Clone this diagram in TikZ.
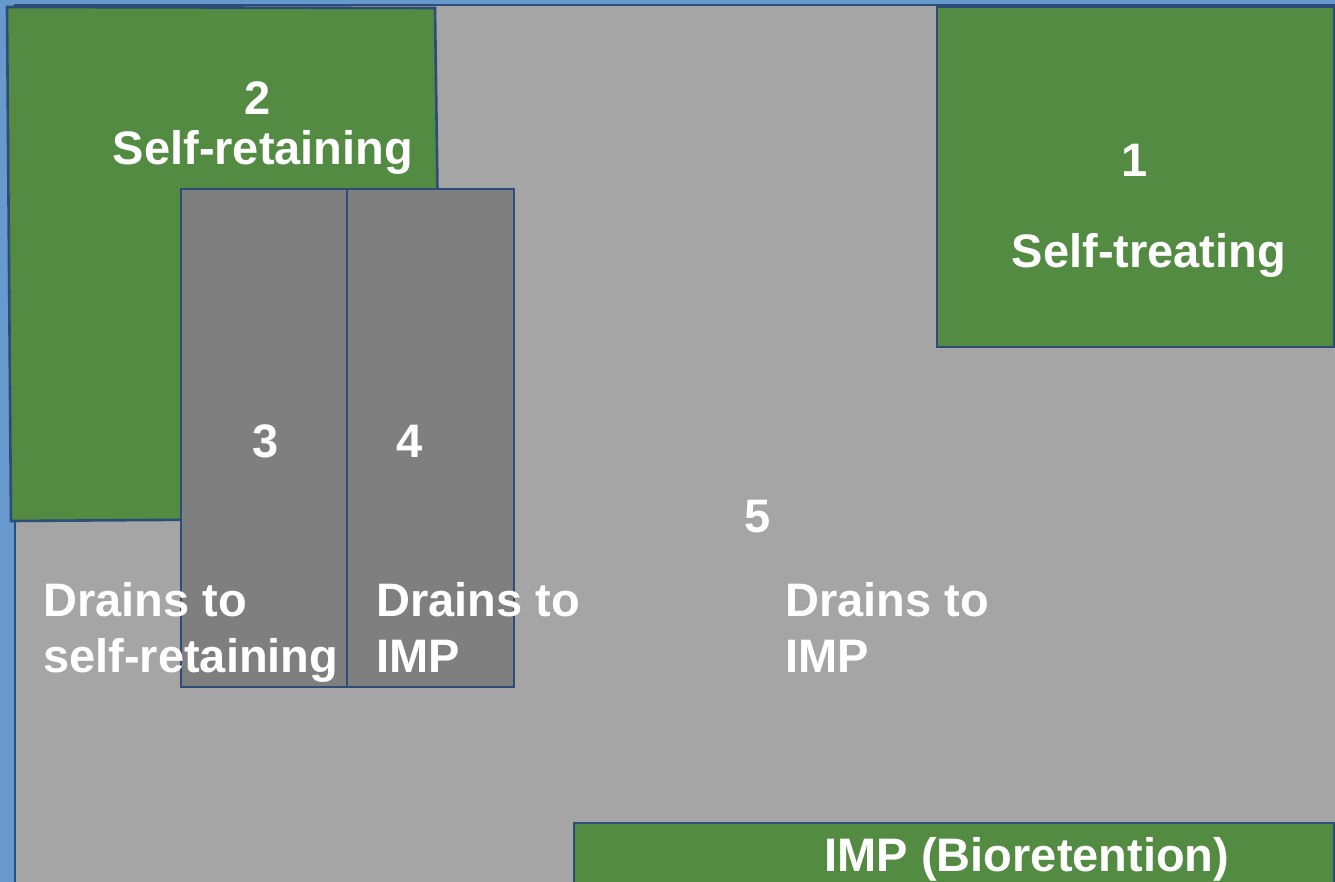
\documentclass[tikz,border=0pt]{standalone}
\usepackage{fontspec}
\setmainfont{Liberation Sans}
\definecolor{sky}{RGB}{103,153,204}
\definecolor{lawn}{RGB}{84,139,66}
\definecolor{paving}{RGB}{165,165,165}
\definecolor{roof}{RGB}{127,127,127}
\definecolor{edge}{RGB}{44,76,122}
\tikzset{
  area/.style={draw=edge, line width=2.6pt},
  lbl/.style={text=white, font=\fontsize{47}{56}\selectfont\bfseries, inner sep=0pt},
}
\begin{document}
\begin{tikzpicture}[x=1pt, y=-1pt]
  \useasboundingbox (0,0) rectangle (1335,882);
  % backdrop
  \fill[sky] (0,0) rectangle (1335,882);
  % paved drainage area 5
  \begin{scope}
    \clip (0,0) rectangle (1335,882);
    \draw[area, fill=paving] (15,5) rectangle (1345,895);
    % self-retaining landscape area 2
    \draw[area, fill=lawn] (7,7) -- (435,8) -- (442,518) -- (11,521) -- cycle;
    % roof areas 3 and 4
    \draw[area, fill=roof] (181,189) rectangle (347,687);
    \draw[area, fill=roof] (347,189) rectangle (514,687);
    % self-treating area 1
    \draw[area, fill=lawn] (937,7) rectangle (1334,347);
    % bioretention facility
    \draw[area, fill=lawn] (574,823) rectangle (1334,895);
  \end{scope}
  % labels
  \node[lbl, anchor=base] (n2) at (258,115) {2};
  \node[lbl, anchor=base] (t2) at (263,165) {Self-retaining};
  \node[lbl, anchor=base] (n1) at (1135,177) {1};
  \node[lbl, anchor=base] (t1) at (1149,268) {Self-treating};
  \node[lbl, anchor=base] (n3) at (266,457) {3};
  \node[lbl, anchor=base] (n4) at (410,457) {4};
  \node[lbl, anchor=base] (n5) at (758,532) {5};
  \node[lbl, anchor=base west] (d3a) at (43,616) {Drains to};
  \node[lbl, anchor=base west] (d3b) at (43,672) {self-retaining};
  \node[lbl, anchor=base west] (d4a) at (376,616) {Drains to};
  \node[lbl, anchor=base west] (d4b) at (376,672) {IMP};
  \node[lbl, anchor=base west] (d5a) at (785,616) {Drains to};
  \node[lbl, anchor=base west] (d5b) at (785,672) {IMP};
  \node[lbl, anchor=base] (imp) at (1027,871) {IMP (Bioretention)};
\end{tikzpicture}
\end{document}
